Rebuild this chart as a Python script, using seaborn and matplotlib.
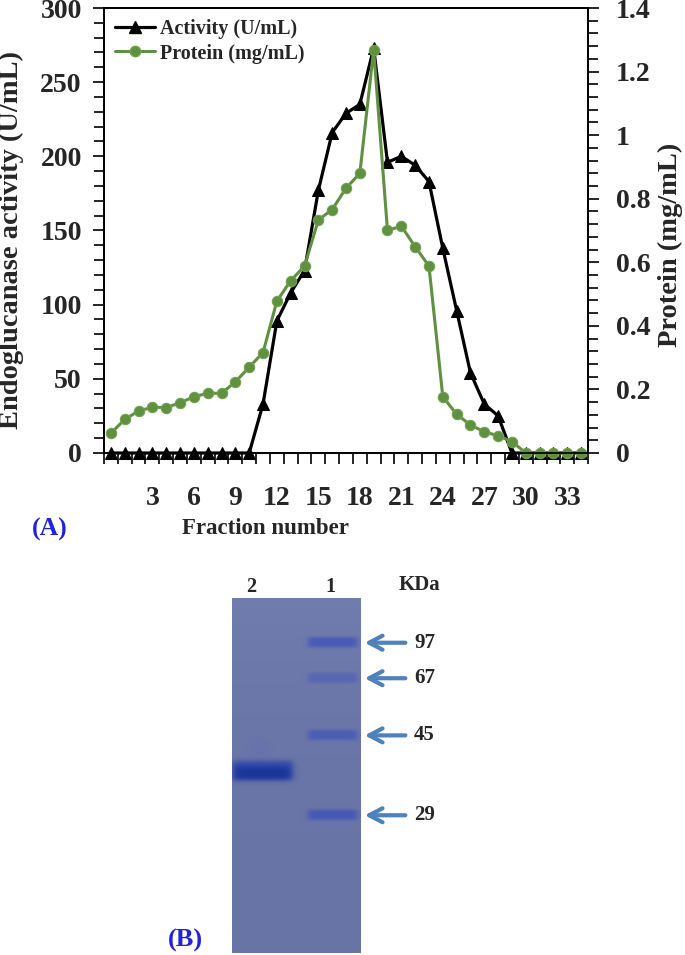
import numpy as np
import pandas as pd
import matplotlib
matplotlib.use('Agg')
import matplotlib.pyplot as plt
import seaborn as sns
from matplotlib.lines import Line2D
from matplotlib.ticker import MultipleLocator, FixedFormatter

# ---- data: panel A ----
fractions = list(range(0, 35))
activity = [0, 0, 0, 0, 0, 0, 0, 0, 0, 0, 0,
            33, 89, 108, 123, 177, 216, 229, 235, 273, 196, 200, 194, 183,
            138, 96, 54, 33, 25,
            0, 0, 0, 0, 0, 0]
protein = [0.062, 0.106, 0.132, 0.144, 0.143, 0.158, 0.177, 0.188, 0.188,
           0.224, 0.270, 0.316, 0.478, 0.542, 0.588, 0.733, 0.766, 0.833,
           0.880, 1.268, 0.700, 0.714, 0.649, 0.588, 0.177, 0.122, 0.088,
           0.067, 0.054, 0.036, 0, 0, 0, 0, 0]
x_labels = list(range(3, 34, 3))
left_ticks = list(range(0, 301, 50))
right_ticks = [0, 0.2, 0.4, 0.6, 0.8, 1.0, 1.2, 1.4]

# ---- data: panel B (SDS-PAGE) ----
marker_kda = [97, 67, 45, 29]
marker_rf = [0.126, 0.226, 0.387, 0.612]      # relative migration in gel
marker_strength = [0.8, 0.45, 0.7, 0.85]
sample_rf = 0.488
lane_names = ['2', '1']

df = pd.DataFrame({'Fraction': fractions, 'Activity': activity, 'Protein': protein})

sns.set_theme(style='ticks')
plt.rcParams['font.family'] = ['Liberation Serif', 'DejaVu Serif']
plt.rcParams['font.weight'] = 'bold'
plt.rcParams['axes.linewidth'] = 1.3
plt.rcParams['axes.edgecolor'] = 'black'

W, H = 685, 955
green = '#5f9140'
green_edge = '#6fa34e'
blue_txt = '#2222dd'
arrow_blue = '#4f81bd'


def fx(px):
    return px / W


def fy(py):
    return 1 - py / H


fig = plt.figure(figsize=(W / 100, H / 100), dpi=100)

# ---------- panel A ----------
ax = fig.add_axes([fx(104), fy(453), (588 - 104) / W, (453 - 8) / H])
sns.lineplot(data=df, x='Fraction', y='Activity', ax=ax, color='black',
             marker='^', markersize=8.5, linewidth=2.3, markeredgecolor='black',
             legend=False)
ax2 = ax.twinx()
sns.lineplot(data=df, x='Fraction', y='Protein', ax=ax2, color=green,
             marker='o', markersize=7.5, linewidth=2.2, markeredgecolor=green_edge,
             legend=False)
for ln in ax.lines + ax2.lines:
    ln.set_clip_on(False)

ax.set_xlim(-0.5, 34.5)
ax.set_ylim(0, 300)
ax2.set_ylim(0, 1.4)
ax.set_xlabel('')
ax.set_ylabel('')
ax2.set_ylabel('')

ax.set_xticks(x_labels)
ax.set_xticklabels([str(v) for v in x_labels])
ax.set_xticks(np.arange(-0.5, 35, 1), minor=True)
ax.tick_params(axis='x', which='major', length=0, pad=24, labelsize=20)
ax.tick_params(axis='x', which='minor', length=8, width=1.2, direction='out', color='black')

ax.set_yticks(left_ticks)
ax.yaxis.set_minor_locator(MultipleLocator(10))
ax.tick_params(axis='y', which='major', length=8, width=1.2, pad=8, labelsize=20,
               direction='out', color='black')
ax.tick_params(axis='y', which='minor', length=7, width=1.2, direction='out', color='black')

ax2.set_yticks(right_ticks)
ax2.yaxis.set_major_formatter(FixedFormatter(['{:g}'.format(v) for v in right_ticks]))
ax2.yaxis.set_minor_locator(MultipleLocator(0.04))
ax2.tick_params(axis='y', which='major', length=8, width=1.2, pad=12, labelsize=20,
                direction='out', color='black')
ax2.tick_params(axis='y', which='minor', length=7, width=1.2, direction='out', color='black')

handles = [Line2D([], [], color='black', marker='^', markersize=8.5, linewidth=2.3),
           Line2D([], [], color=green, marker='o', markersize=7.5, linewidth=2.2,
                  markeredgecolor=green_edge)]
ax2.legend(handles, ['Activity (U/mL)', 'Protein (mg/mL)'], loc='upper left',
           bbox_to_anchor=(0.0, 1.0), frameon=False, fontsize=14.5,
           handlelength=2.0, handletextpad=0.25, labelspacing=0.22,
           borderaxespad=0.3, borderpad=0.25)

fig.text(fx(11), fy(240), 'Endoglucanase activity (U/mL)', rotation=90,
         ha='center', va='center', fontsize=20.5, fontweight='bold')
fig.text(fx(670), fy(245), 'Protein (mg/mL)', rotation=90,
         ha='center', va='center', fontsize=20.5, fontweight='bold')
fig.text(fx(265), fy(528), 'Fraction number', ha='center', va='center',
         fontsize=16.5, fontweight='bold')
fig.text(fx(50), fy(529), '(A)', ha='center', va='center', fontsize=18.5,
         fontweight='bold', color=blue_txt)

# ---------- panel B: gel ----------
gax = fig.add_axes([fx(231.7), fy(953), (360 - 231.7) / W, (953 - 598) / H])
gh, gw = 360, 130
yy = np.linspace(0, 1, gh)[:, None]
xx = np.linspace(0, 2, gw)[None, :]
base = np.array([104, 115, 166]) / 255.0
img = np.ones((gh, gw, 3)) * base
img = img + (0.035 * np.exp(-yy / 0.3))[..., None] * np.array([1, 1, 1])


def lane(center, half, soft=0.035):
    return 0.5 * (np.tanh((xx - (center - half)) / soft) - np.tanh((xx - (center + half)) / soft))


def flat_band(rf, w):
    return np.exp(-((yy - rf) / w) ** 4)


def blend(im, alpha, color):
    a = np.clip(alpha, 0, 1)[..., None]
    return im * (1 - a) + np.array(color) / 255.0 * a


marker_lane, sample_lane = 1.565, 0.47
for rf, s in zip(marker_rf, marker_strength):
    a = s * lane(marker_lane, 0.38, 0.05) * flat_band(rf, 0.015)
    img = blend(img, a, (62, 84, 185))
# sample band: thick, darker on the lower edge, faint smear above
a = lane(sample_lane, 0.47, 0.06) * flat_band(sample_rf, 0.029)
img = blend(img, 0.9 * a, (34, 62, 168))
a = lane(sample_lane, 0.42, 0.06) * flat_band(sample_rf + 0.008, 0.017)
img = blend(img, 0.6 * a, (20, 44, 145))
a = lane(sample_lane - 0.05, 0.12, 0.07) * np.exp(-0.5 * ((yy - sample_rf + 0.06) / 0.02) ** 2)
img = blend(img, 0.2 * a, (85, 105, 190))

gax.imshow(np.clip(img, 0, 1), extent=(0, 2, 1, 0), aspect='auto', interpolation='bilinear')
gax.set_xlim(0, 2)
gax.set_ylim(1, 0)
gax.axis('off')

for kda, rf in zip(marker_kda, marker_rf):
    gax.annotate('', xy=(2.03, rf), xytext=(2.75, rf), annotation_clip=False,
                 arrowprops=dict(arrowstyle='->, head_width=0.42, head_length=0.8',
                                 color=arrow_blue, lw=3))
    gax.text(2.84, rf, str(kda), ha='left', va='center', fontsize=15,
             fontweight='bold', clip_on=False)
gax.text(2.92, -0.037, 'KDa', ha='center', va='center', fontsize=15,
         fontweight='bold', clip_on=False)
for name, xpos in zip(lane_names, [0.31, 1.54]):
    gax.text(xpos, -0.032, name, ha='center', va='center', fontsize=14.5,
             fontweight='bold', clip_on=False)
fig.text(fx(185), fy(940), '(B)', ha='center', va='center', fontsize=19,
         fontweight='bold', color=blue_txt)

fig.savefig('out.png', dpi=100)
